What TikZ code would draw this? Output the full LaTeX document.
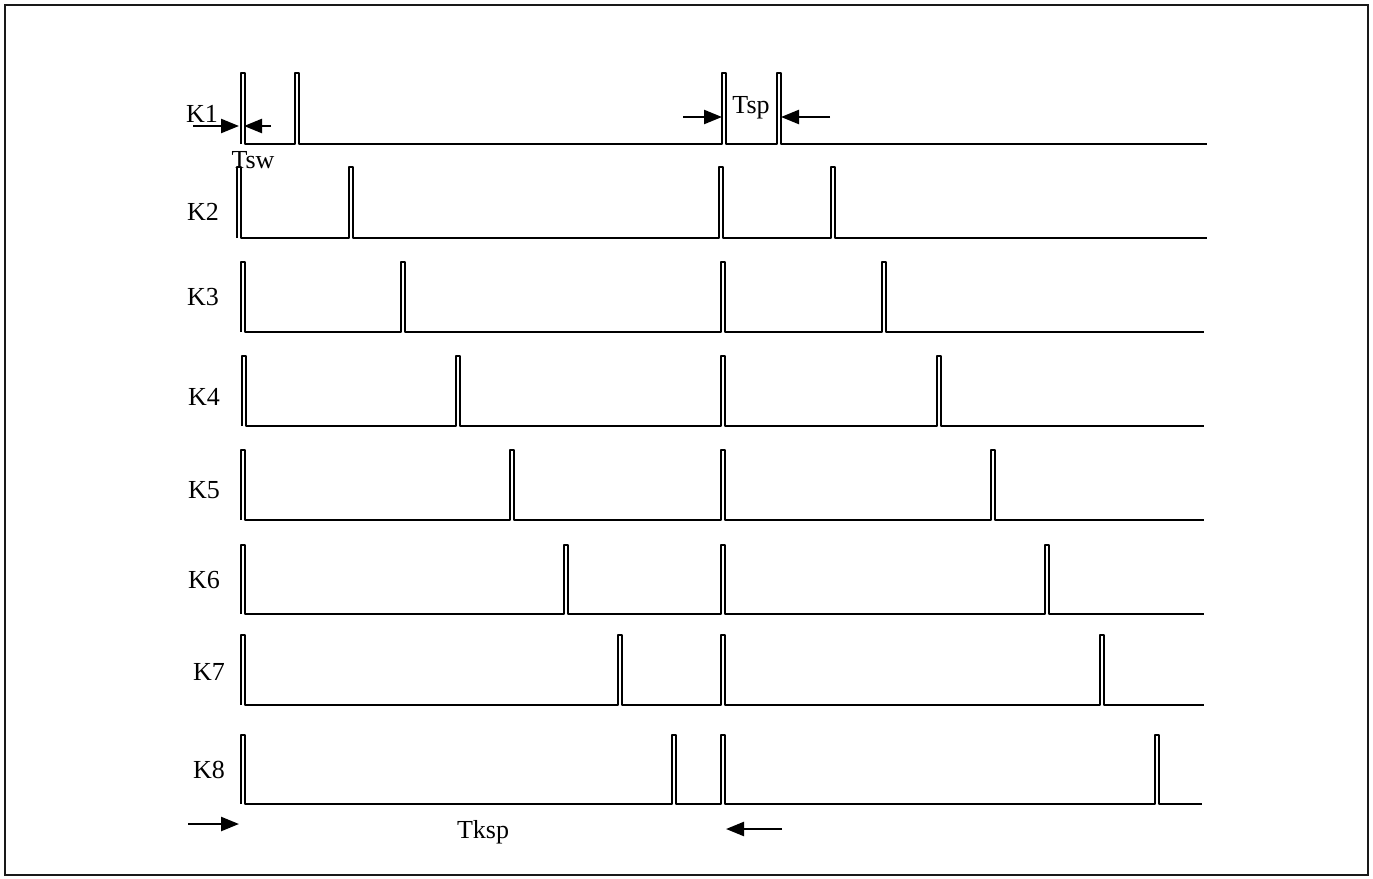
\documentclass[tikz,border=0pt]{standalone}
\usepackage{fontspec}
\setmainfont{Liberation Serif}
\usetikzlibrary{arrows.meta}
\tikzset{
  wave/.style={line width=2.8pt, line join=round, line cap=butt},
  lbl/.style={inner sep=0pt, font=\fontsize{26}{30}\selectfont},
  dimarrow/.style={line width=2.4pt, -{Triangle[length=18pt,width=14pt]}},
  frame/.style={line width=2.5pt, draw=black!90}
}
\begin{document}
\begin{tikzpicture}[x=1pt,y=-1pt]
\useasboundingbox (0,0) rectangle (1373,878);
\draw[frame] (5,5) rectangle (1368,875);
% waveforms: base, top, pulses, end
\draw[wave] (241,144) \foreach \p in {241,295,722,777}{ -- (\p,144) -- (\p,73) -- ({\p+4},73) -- ({\p+4},144)} -- (1207,144);
\draw[wave] (237,238) \foreach \p in {237,349,719,831}{ -- (\p,238) -- (\p,167) -- ({\p+4},167) -- ({\p+4},238)} -- (1207,238);
\draw[wave] (241,332) \foreach \p in {241,401,721,882}{ -- (\p,332) -- (\p,262) -- ({\p+4},262) -- ({\p+4},332)} -- (1204,332);
\draw[wave] (242,426) \foreach \p in {242,456,721,937}{ -- (\p,426) -- (\p,356) -- ({\p+4},356) -- ({\p+4},426)} -- (1204,426);
\draw[wave] (241,520) \foreach \p in {241,510,721,991}{ -- (\p,520) -- (\p,450) -- ({\p+4},450) -- ({\p+4},520)} -- (1204,520);
\draw[wave] (241,614) \foreach \p in {241,564,721,1045}{ -- (\p,614) -- (\p,545) -- ({\p+4},545) -- ({\p+4},614)} -- (1204,614);
\draw[wave] (241,705) \foreach \p in {241,618,721,1100}{ -- (\p,705) -- (\p,635) -- ({\p+4},635) -- ({\p+4},705)} -- (1204,705);
\draw[wave] (241,804) \foreach \p in {241,672,721,1155}{ -- (\p,804) -- (\p,735) -- ({\p+4},735) -- ({\p+4},804)} -- (1202,804);
% labels
\node[lbl] (k1) at (202,114) {K1};
\node[lbl] (k2) at (203,212) {K2};
\node[lbl] (k3) at (203,297) {K3};
\node[lbl] (k4) at (204,397) {K4};
\node[lbl] (k5) at (204,490) {K5};
\node[lbl] (k6) at (204,580) {K6};
\node[lbl] (k7) at (209,672) {K7};
\node[lbl] (k8) at (209,770) {K8};
\node[lbl] (tsw) at (253,160) {Tsw};
\node[lbl] (tsp) at (751,108) {Tsp};
\node[lbl] (tksp) at (483,832) {Tksp};
% dimension arrows
\coordinate (a1s) at (193,126); \coordinate (a1e) at (239,126);
\coordinate (a2s) at (271,126); \coordinate (a2e) at (244,126);
\coordinate (b1s) at (683,117); \coordinate (b1e) at (722,117);
\coordinate (b2s) at (830,117); \coordinate (b2e) at (781,117);
\coordinate (c1s) at (188,824); \coordinate (c1e) at (239,824);
\coordinate (c2s) at (782,829); \coordinate (c2e) at (726,829);
\draw[dimarrow] (a1s) -- (a1e);
\draw[dimarrow] (a2s) -- (a2e);
\draw[dimarrow] (b1s) -- (b1e);
\draw[dimarrow] (b2s) -- (b2e);
\draw[dimarrow] (c1s) -- (c1e);
\draw[dimarrow] (c2s) -- (c2e);
\end{tikzpicture}
\end{document}
